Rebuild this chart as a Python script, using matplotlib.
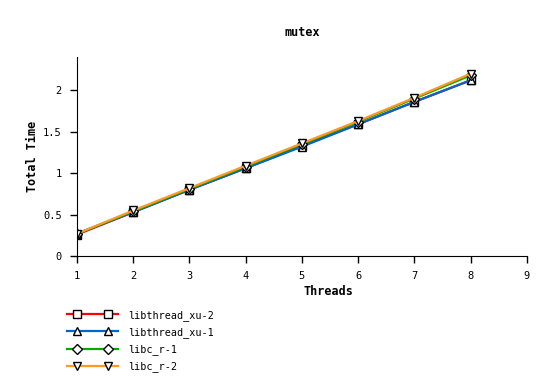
import matplotlib
matplotlib.use("Agg")
import matplotlib.pyplot as plt
from matplotlib.lines import Line2D
from matplotlib.legend_handler import HandlerLine2D, HandlerTuple

threads = [1, 2, 3, 4, 5, 6, 7, 8]
xu2 = [0.26, 0.53, 0.80, 1.06, 1.33, 1.59, 1.86, 2.12]
xu1 = [0.27, 0.53, 0.80, 1.06, 1.32, 1.59, 1.86, 2.12]
cr1 = [0.27, 0.54, 0.81, 1.08, 1.35, 1.62, 1.90, 2.18]
cr2 = [0.27, 0.55, 0.82, 1.09, 1.36, 1.63, 1.91, 2.20]

names = ['libthread_xu-2', 'libthread_xu-1', 'libc_r-1', 'libc_r-2']
colors = ['#ff0000', '#0066cc', '#00aa00', '#ff9922']
markers = ['s', '^', 'D', 'v']
sizes = [5.5, 6, 5, 6]

plt.rcParams['font.family'] = 'DejaVu Sans Mono'
plt.rcParams['font.size'] = 7.5

fig = plt.figure(figsize=(5.54, 3.91), dpi=100)
ax = fig.add_axes([0.139, 0.345, 0.812, 0.509])

handles = []
hmap = {}
for y, name, c, m, s in zip([xu2, xu1, cr1, cr2], names, colors, markers, sizes):
    ax.plot(threads, y, color=c, lw=1.6, marker=m, markersize=s,
            markerfacecolor='white', markeredgecolor='black', markeredgewidth=1)
    # legend: full-width line plus markers set in from the ends
    ln = Line2D([], [], color=c, lw=1.6)
    mk = Line2D([], [], ls='none', marker=m, markersize=s,
                markerfacecolor='white', markeredgecolor='black', markeredgewidth=1)
    hmap[ln] = HandlerLine2D(marker_pad=0)
    hmap[mk] = HandlerLine2D(marker_pad=1.0)
    handles.append((ln, mk))
hmap[tuple] = HandlerTuple(ndivide=1, pad=0)

ax.set_xlim(1, 9)
ax.set_ylim(0, 2.4)
ax.set_xticks(range(1, 10))
ax.set_yticks([0, 0.5, 1, 1.5, 2])
ax.set_yticklabels(['0', '0.5', '1', '1.5', '2'])
ax.spines['top'].set_visible(False)
ax.spines['right'].set_visible(False)
ax.tick_params(direction='out', length=5, width=1, pad=6, labelsize=7.5)
ax.set_title('mutex', fontweight='bold', fontsize=8.5, pad=15)
ax.set_xlabel('Threads', fontweight='bold', fontsize=8.5)
ax.xaxis.set_label_coords(0.56, -0.145)
ax.set_ylabel('Total Time', fontweight='bold', fontsize=8.5)
ax.yaxis.set_label_coords(-0.084, 0.5)

fig.legend(handles, names, loc='upper left',
           bbox_to_anchor=(0.121, 0.208), frameon=False,
           borderpad=0, borderaxespad=0,
           handlelength=5.0, labelspacing=0.62, handletextpad=1.0,
           numpoints=2, fontsize=7.3, handler_map=hmap)

fig.savefig('out.png', dpi=100)
